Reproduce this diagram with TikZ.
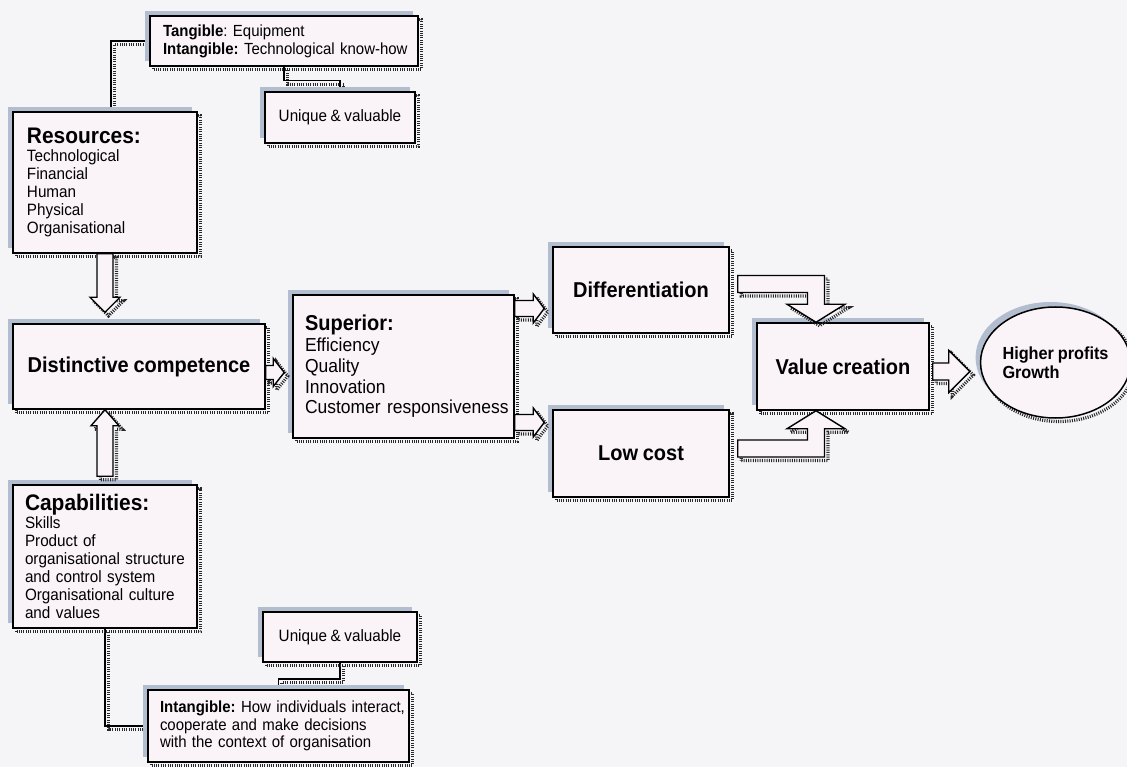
\documentclass[tikz,border=0pt]{standalone}
\usepackage{fontspec}
\setmainfont{Liberation Sans}[FakeStretch=0.93, WordSpace=0.85]
\usetikzlibrary{calc,shapes.geometric,shadows}
\frenchspacing

\definecolor{paper}{RGB}{245,245,247}
\definecolor{boxfill}{RGB}{250,243,247}
\definecolor{haze}{RGB}{178,190,207}
\definecolor{stipple}{RGB}{40,40,45}

\newcommand\bodysize{\fontsize{16.4}{18}\selectfont}
\newcommand\headsize{\fontsize{22.5}{24}\selectfont\bfseries}
\newcommand\titlesize{\fontsize{21.5}{24}\selectfont\bfseries}

\pgfdeclarelayer{paperlayer}
\pgfdeclarelayer{behind}
\pgfsetlayers{paperlayer,behind,main}

\tikzset{
  stippleshadow/.style={general shadow={draw=stipple, fill=none, line width=3.2pt,
      dash pattern=on 1pt off 1.3pt, shadow xshift=3.5pt, shadow yshift=-3.5pt}},
  hazeshadow/.style={general shadow={fill=haze, draw=none, shadow xshift=-5pt, shadow yshift=5pt}},
  panel/.style={rectangle, draw=black, line width=1.5pt, fill=boxfill,
      hazeshadow, stippleshadow, inner ysep=0pt, font=\bodysize},
  size/.style 2 args={minimum width=#1, minimum height=#2},
  lefttext/.style 2 args={text width=#1, inner xsep=#2, align=left},
  conn/.style={draw=black, line width=1.5pt, stippleshadow},
  barrow/.style={draw=black, line width=1.4pt, fill=boxfill, line join=miter, stippleshadow}
}

% block arrows: start, tip, shaft half width, head half width, head length
\newcommand\blockR[5]{\draw[barrow] ($(#1)+(0,-#3)$) -- ($(#2)+(-#5,-#3)$) -- ($(#2)+(-#5,-#4)$) -- (#2)
  -- ($(#2)+(-#5,#4)$) -- ($(#2)+(-#5,#3)$) -- ($(#1)+(0,#3)$) -- cycle;}
\newcommand\blockD[5]{\draw[barrow] ($(#1)+(-#3,0)$) -- ($(#2)+(-#3,-#5)$) -- ($(#2)+(-#4,-#5)$) -- (#2)
  -- ($(#2)+(#4,-#5)$) -- ($(#2)+(#3,-#5)$) -- ($(#1)+(#3,0)$) -- cycle;}
\newcommand\blockU[5]{\draw[barrow] ($(#1)+(-#3,0)$) -- ($(#2)+(-#3,#5)$) -- ($(#2)+(-#4,#5)$) -- (#2)
  -- ($(#2)+(#4,#5)$) -- ($(#2)+(#3,#5)$) -- ($(#1)+(#3,0)$) -- cycle;}

\begin{document}
\begin{tikzpicture}[x=1pt,y=-1pt]
\begin{pgfonlayer}{paperlayer}
  \fill[paper] (0,0) rectangle (1127,767);
\end{pgfonlayer}
\useasboundingbox (0,0) rectangle (1127,767);

% ---- boxes ----
\node[panel, size={268pt}{50pt}, lefttext={242pt}{13pt}, font=\fontsize{16.1}{18}\selectfont] (tang) at (284,41)
  {\mbox{\textbf{Tangible}: Equipment}\\\mbox{\textbf{Intangible:} Technological know-how}};
\node[panel, size={150pt}{51pt}, align=center] (uqa) at (340,117.5) {Unique \& valuable};
\node[panel, size={184pt}{141pt}, lefttext={156pt}{14pt}] (res) at (105,182.5)
  {{\headsize Resources:}\\Technological\\Financial\\Human\\Physical\\Organisational};
\node[panel, size={252pt}{85pt}, align=center, font=\titlesize] (dc) at (139,366.5) {Distinctive competence};
\node[panel, size={221pt}{143pt}, lefttext={197pt}{12pt}, font=\fontsize{18.8}{20.8}\selectfont] (sup) at (403.5,366.5)
  {{\titlesize Superior:}\\Efficiency\\Quality\\Innovation\\\mbox{Customer responsiveness}};
\node[panel, size={176pt}{86pt}, align=center, font=\titlesize] (diff) at (641,290) {Differentiation};
\node[panel, size={176pt}{87pt}, align=center, font=\titlesize] (low) at (641,453.5) {Low cost};
\node[panel, size={172pt}{87pt}, align=center, font=\titlesize] (val) at (843,366.5) {Value creation};
\node[panel, ellipse, inner sep=0pt, size={135pt}{111pt}, align=left,
      font=\fontsize{17.5}{19}\selectfont\bfseries] (circ) at (1055.5,362.5) {Higher profits\\Growth};
\node[panel, size={184pt}{143pt}, lefttext={160pt}{12pt}] (cap) at (105,556.5)
  {{\headsize Capabilities:}\\Skills\\Product of\\\mbox{organisational structure}\\and control system\\\mbox{Organisational culture}\\and values};
\node[panel, size={154pt}{50pt}, align=center] (uqb) at (340,637) {Unique \& valuable};
\node[panel, size={261pt}{72pt}, lefttext={237pt}{12pt}, font=\fontsize{16.1}{17.5}\selectfont] (intg) at (278.5,726)
  {\mbox{\textbf{Intangible:} How individuals interact,}\\cooperate and make decisions\\with the context of organisation};

% ---- elbow connectors ----
\begin{pgfonlayer}{behind}
  \draw[conn] (tang.west) -| ($(res.north)+(6,0)$);
  \draw[conn] (tang.south) -- ++(0,14) -| (uqa.north);
  \draw[conn] (uqb.south) -- ++(0,16) -| (intg.north);
  \draw[conn] (cap.south) |- (intg.west);
\end{pgfonlayer}

% ---- block arrows ----
\coordinate (a1s) at (res.south);
\coordinate (a1e) at ($(a1s |- dc.north)+(0,-11)$);
\blockD{a1s}{a1e}{8}{15}{15}

\coordinate (a2s) at ($(cap.north)+(0,-8)$);
\coordinate (a2e) at (a2s |- dc.south);
\blockU{a2s}{a2e}{8}{14}{16}

\coordinate (a3s) at ($(dc.east)+(0,6)$);
\coordinate (a3e) at ($(a3s -| sup.west)+(-8,0)$);
\blockR{a3s}{a3e}{7}{14}{11}

\coordinate (a4s) at ($(sup.east)+(0,-58)$);
\coordinate (a4e) at ($(a4s -| diff.west)+(-8,0)$);
\blockR{a4s}{a4e}{8}{14.5}{11}

\coordinate (a5s) at ($(sup.east)+(0,56)$);
\coordinate (a5e) at ($(a5s -| low.west)+(-8,0)$);
\blockR{a5s}{a5e}{8}{14.5}{11}

\coordinate (a6s) at ($(val.east)+(3,5)$);
\coordinate (a6e) at ($(a6s -| circ.west)+(-10,0)$);
\blockR{a6s}{a6e}{8.5}{21}{21}

% bent arrows into value creation
\coordinate (d1) at ($(diff.east)+(8,-6)$);
\coordinate (t1) at ($(val.north)+(-27,0)$);
\coordinate (k1) at (t1 |- d1);
\draw[barrow] ($(d1)+(0,-8.5)$) -- ($(k1)+(8.5,-8.5)$) -- ($(t1)+(8.5,-18)$) -- ($(t1)+(29,-18)$)
  -- (t1) -- ($(t1)+(-29,-18)$) -- ($(t1)+(-8.5,-18)$) -- ($(k1)+(-8.5,8.5)$) -- ($(d1)+(0,8.5)$) -- cycle;

\coordinate (d2) at ($(low.east)+(8,-5)$);
\coordinate (t2) at ($(val.south)+(-27,0)$);
\coordinate (k2) at (t2 |- d2);
\draw[barrow] ($(d2)+(0,8.5)$) -- ($(k2)+(8.5,8.5)$) -- ($(t2)+(8.5,18)$) -- ($(t2)+(29,18)$)
  -- (t2) -- ($(t2)+(-29,18)$) -- ($(t2)+(-8.5,18)$) -- ($(k2)+(-8.5,-8.5)$) -- ($(d2)+(0,-8.5)$) -- cycle;
\end{tikzpicture}
\end{document}
